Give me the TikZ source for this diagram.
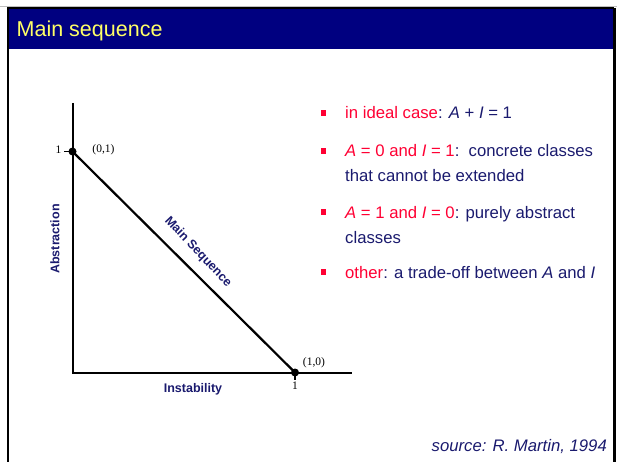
\documentclass[tikz,border=0pt]{standalone}
\usepackage{fontspec}
\setmainfont{Liberation Sans}
\newfontfamily\serifm{Liberation Serif}
\definecolor{titlebar}{RGB}{0,0,128}
\definecolor{titletext}{RGB}{255,255,102}
\definecolor{navytext}{RGB}{26,26,110}
\definecolor{redtext}{RGB}{255,0,51}
\begin{document}
\begin{tikzpicture}[x=1pt,y=-1pt,
  bodytext/.style={anchor=base west,inner sep=0pt,text=navytext,font=\fontsize{16.7}{20}\selectfont},
  bulletsq/.style={fill=redtext,draw=none,minimum size=5.5pt,inner sep=0pt},
  axislabel/.style={inner sep=0pt,text=navytext,font=\fontsize{12.5}{14}\selectfont\bfseries},
  smalllabel/.style={inner sep=0pt,font=\fontsize{11.5}{13}\selectfont\serifm},
  axisline/.style={line width=2pt,black},
  dotpt/.style={circle,fill=black,minimum size=8pt,inner sep=0pt}]
\useasboundingbox (0,0) rectangle (617,462);
% frame and title bar
\draw[gray!50,line width=0.8pt] (0,6) -- (617,6);
\fill[titlebar] (9,9) rectangle (613,49);
\draw[black,line width=2pt] (8,462) -- (8,8) -- (614,8);
\draw[black,line width=2.5pt] (614.5,8) -- (614.5,462);
\node[anchor=base west,inner sep=0pt,text=titletext,font=\fontsize{21.5}{24}\selectfont] (title) at (16.5,37) {Main sequence};
% chart
\coordinate (O) at (72.5,372.5);
\coordinate (ytop) at (72.5,103);
\coordinate (xend) at (352,372.5);
\coordinate (P01) at (72.5,151.5);
\coordinate (P10) at (295,372.5);
\coordinate (tickL) at (64,151.5);
\coordinate (tickB) at (295,380);
\draw[axisline] (ytop) -- (O) -- (xend);
\draw[line width=2.2pt] (P01) -- (P10);
\draw[line width=1.2pt] (tickL) -- (P01);
\draw[line width=1.2pt] (P10) -- (tickB);
\node[dotpt] (d01) at (P01) {};
\node[dotpt] (d10) at (P10) {};
\node[smalllabel] (one1) at (58.5,150) {1};
\node[smalllabel] (one2) at (295,386) {1};
\node[smalllabel] (l01) at (103.5,150) {(0,1)};
\node[smalllabel] (l10) at (314,363) {(1,0)};
\node[axislabel,rotate=90] (abst) at (55,239) {Abstraction};
\node[axislabel] (inst) at (193,389) {Instability};
\node[axislabel,rotate=-46.5] (ms) at (198,252) {Main Sequence};
% bullets
\node[bulletsq] (b1) at (323.5,113) {};
\node[bulletsq] (b2) at (323.5,151) {};
\node[bulletsq] (b3) at (323.5,212) {};
\node[bulletsq] (b4) at (323.5,272) {};
\node[bodytext] (t1) at (345,119) {\textcolor{redtext}{in ideal case}: \textit{A} + \textit{I} = 1};
\node[bodytext] (t2) at (345,157) {\textcolor{redtext}{\textit{A} = 0 and \textit{I} = 1}:\ \ concrete classes};
\node[bodytext] (t3) at (345,182) {that cannot be extended};
\node[bodytext] (t4) at (345,218) {\textcolor{redtext}{\textit{A} = 1 and \textit{I} = 0}: purely abstract};
\node[bodytext] (t5) at (345,243) {classes};
\node[bodytext] (t6) at (345,278) {\textcolor{redtext}{other}: a trade-off between \textit{A} and \textit{I}};
\node[anchor=base east,inner sep=0pt,text=navytext,font=\fontsize{16.7}{20}\selectfont\itshape] (src) at (607,451) {source: R. Martin, 1994};
\end{tikzpicture}
\end{document}
